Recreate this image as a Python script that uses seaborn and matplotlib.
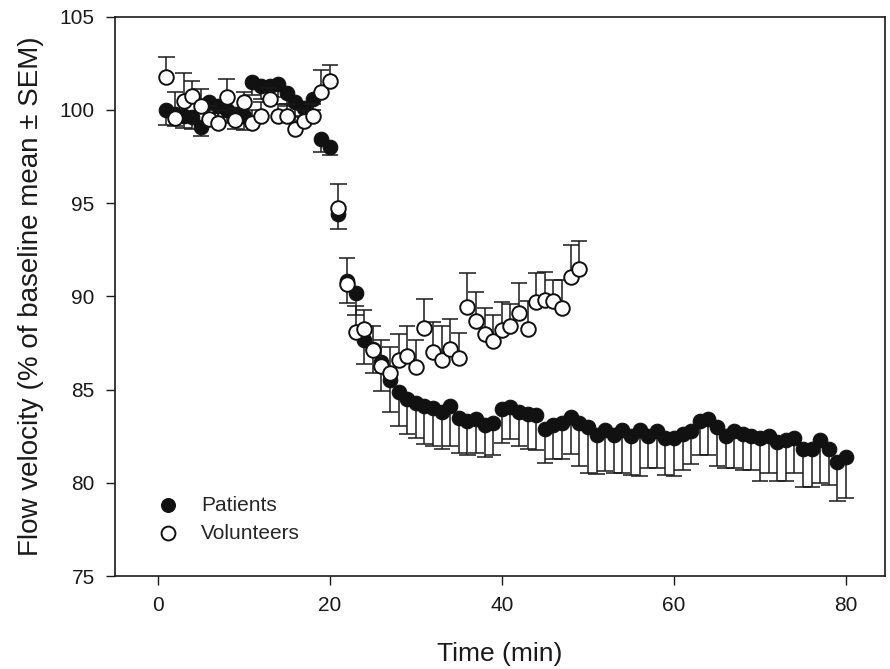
"""
Flow velocity over time: patients vs volunteers (mean ± SEM, % of baseline)
"""
import matplotlib
matplotlib.use('Agg')
import matplotlib.pyplot as plt
import seaborn as sns
import numpy as np
import pandas as pd

# Datos
patients_time = list(range(1, 81))
patients_mean = [
    100.0, 99.8, 99.7, 99.6, 99.1, 100.45, 100.2, 100.0, 99.8, 99.7,
    101.5, 101.3, 101.3, 101.4, 100.9, 100.45, 100.1, 100.6, 98.45, 98.0,
    94.4, 90.85, 90.2, 87.65, 87.2, 86.5, 85.5, 84.85, 84.5, 84.3,
    84.1, 84.0, 83.8, 84.1, 83.5, 83.3, 83.4, 83.1, 83.2, 83.95,
    84.05, 83.8, 83.7, 83.65, 82.9, 83.1, 83.2, 83.55, 83.2, 83.0,
    82.55, 82.85, 82.55, 82.85, 82.5, 82.85, 82.5, 82.8, 82.4, 82.4,
    82.6, 82.8, 83.3, 83.4, 83.0, 82.5, 82.8, 82.6, 82.5, 82.4,
    82.5, 82.2, 82.3, 82.4, 81.8, 81.8, 82.3, 81.8, 81.1, 81.4,
]
patients_sem = [
    0.8, 0.65, 0.65, 0.6, 0.5, 0.6, 0.6, 0.7, 0.8, 0.8,
    0.7, 0.7, 0.7, 0.7, 0.7, 0.85, 0.7, 0.6, 0.7, 0.4,
    0.8, 1.2, 1.2, 1.3, 1.3, 1.6, 1.7, 1.8, 1.9, 1.9,
    2.0, 2.0, 2.0, 2.1, 1.9, 1.8, 1.8, 1.7, 1.7, 1.8,
    1.7, 1.8, 1.9, 1.9, 1.85, 1.8, 1.9, 2.0, 2.3, 2.5,
    2.1, 2.2, 2.0, 2.3, 2.1, 2.5, 1.7, 2.0, 2.0, 2.05,
    1.9, 1.8, 1.8, 1.9, 2.1, 1.7, 2.0, 1.9, 1.8, 2.3,
    2.0, 2.1, 2.2, 1.9, 2.0, 2.0, 2.3, 1.9, 2.1, 2.2,
]

volunteers_time = list(range(1, 50))
volunteers_mean = [
    101.75, 99.55, 100.5, 100.75, 100.2, 99.5, 99.3, 100.7, 99.45, 100.4,
    99.3, 99.7, 100.6, 99.7, 99.7, 99.0, 99.4, 99.7, 100.95, 101.55,
    94.75, 90.65, 88.1, 88.25, 87.1, 86.25, 85.9, 86.6, 86.8, 86.2,
    88.3, 87.0, 86.6, 87.2, 86.7, 89.45, 88.7, 88.0, 87.6, 88.2,
    88.4, 89.1, 88.25, 89.7, 89.8, 89.75, 89.4, 91.05, 91.45,
]
volunteers_sem = [
    1.1, 1.4, 1.5, 0.8, 0.9, 0.7, 0.7, 0.95, 0.6, 0.55,
    0.7, 0.7, 0.6, 0.6, 0.6, 0.7, 0.6, 0.6, 1.2, 0.85,
    1.3, 1.4, 1.4, 1.0, 1.3, 1.4, 1.4, 1.4, 1.6, 1.45,
    1.55, 1.6, 1.8, 1.6, 1.35, 1.8, 1.55, 1.4, 1.4, 1.5,
    1.2, 1.6, 1.5, 1.55, 1.5, 1.15, 1.5, 1.7, 1.5,
]

sns.set_style('ticks')
plt.rcParams['font.family'] = ['Liberation Sans', 'DejaVu Sans']

df_pac = pd.DataFrame({'tiempo': patients_time, 'media': patients_mean, 'sem': patients_sem})
df_vol = pd.DataFrame({'tiempo': volunteers_time, 'media': volunteers_mean, 'sem': volunteers_sem})

fig = plt.figure(figsize=(8.9, 6.69), dpi=100)
ax = fig.add_axes([0.129, 0.139, 0.865, 0.836])

color_lineas = '#1a1a1a'
cap = 0.95  # media anchura del remate, en minutos

# Pacientes: barras de error hacia abajo
ax.vlines(df_pac['tiempo'], df_pac['media'] - df_pac['sem'], df_pac['media'],
          color=color_lineas, lw=1.1, zorder=1)
ax.hlines(df_pac['media'] - df_pac['sem'], df_pac['tiempo'] - cap, df_pac['tiempo'] + cap,
          color=color_lineas, lw=1.1, zorder=1)
sns.scatterplot(data=df_pac, x='tiempo', y='media', ax=ax, color='#111111',
                edgecolor='#111111', linewidth=0.8, s=110, label='Patients', zorder=2)

# Voluntarios: barras de error hacia arriba
ax.vlines(df_vol['tiempo'], df_vol['media'], df_vol['media'] + df_vol['sem'],
          color=color_lineas, lw=1.1, zorder=3)
ax.hlines(df_vol['media'] + df_vol['sem'], df_vol['tiempo'] - cap, df_vol['tiempo'] + cap,
          color=color_lineas, lw=1.1, zorder=3)
sns.scatterplot(data=df_vol, x='tiempo', y='media', ax=ax, color='white',
                edgecolor='#111111', linewidth=1.4, s=110, label='Volunteers', zorder=4)

ax.set_xlim(-5, 84.5)
ax.set_ylim(75, 105)
ax.set_xticks([0, 20, 40, 60, 80])
ax.set_yticks([75, 80, 85, 90, 95, 100, 105])
ax.tick_params(axis='both', direction='out', length=6.5, width=1, labelsize=15,
               colors='#1a1a1a', pad=8)
for lado in ['top', 'right', 'left', 'bottom']:
    ax.spines[lado].set_visible(True)
    ax.spines[lado].set_linewidth(1.2)
    ax.spines[lado].set_color('#1a1a1a')

ax.set_xlabel('Time (min)', fontsize=19, labelpad=19, color='#1a1a1a')
ax.set_ylabel('Flow velocity (% of baseline mean ± SEM)', fontsize=20, labelpad=11,
              color='#1a1a1a')

ax.legend(loc='lower left', bbox_to_anchor=(0.031, 0.045), frameon=False, fontsize=15,
          handletextpad=0.6, labelspacing=0.42, borderaxespad=0, markerscale=0.95)

plt.savefig('out.png', dpi=100)
print("Figura guardada en out.png")
